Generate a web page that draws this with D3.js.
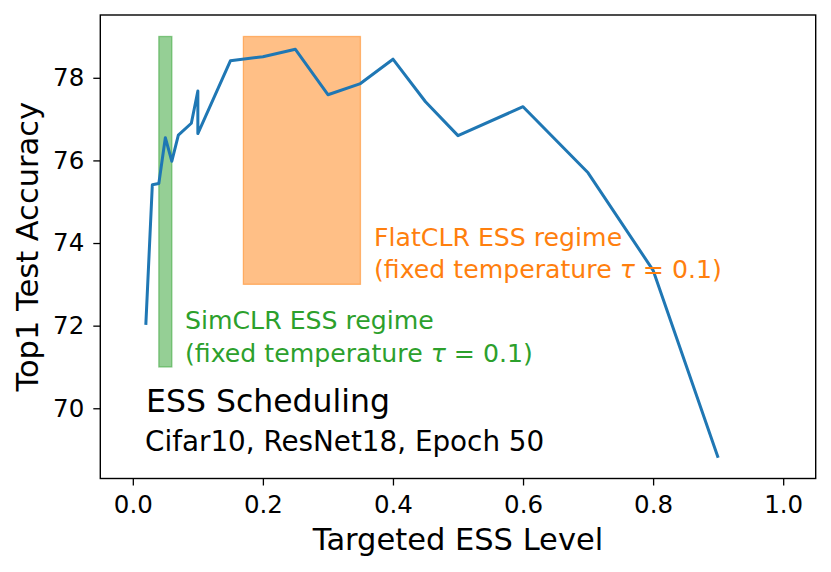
<!DOCTYPE html>
<meta charset="utf-8">
<script src="https://d3js.org/d3.v7.min.js"></script>
<style>
  body { margin: 0; background: white; }
  text { font-family: "DejaVu Sans", sans-serif; }
</style>
<div id="chart"></div>
<script>

// targeted ESS level vs top1 accuracy
var essLevel = [0.02, 0.03, 0.04, 0.05, 0.06, 0.07, 0.09, 0.1, 0.1, 0.15, 0.2, 0.25, 0.3, 0.35, 0.4, 0.45, 0.5, 0.6, 0.7, 0.8, 0.9];
var accuracy = [72.02, 75.41, 75.44, 76.55, 75.98, 76.61, 76.9, 77.68, 76.65, 78.41, 78.51, 78.69, 77.59, 77.86, 78.45, 77.42, 76.6, 77.3, 75.7, 73.34, 68.8];

// shaded regimes: [x0, x1], [y0, y1]
var simclrX = [0.04, 0.06], simclrY = [71, 79];
var flatclrX = [0.17, 0.35], flatclrY = [73, 79];

var xTicks = [0, 0.2, 0.4, 0.6, 0.8, 1.0];
var xTickLabels = ["0.0", "0.2", "0.4", "0.6", "0.8", "1.0"];
var yTicks = [70, 72, 74, 76, 78];

var W = 831, H = 572;
var plotL = 100.3, plotR = 815.7, plotT = 15, plotB = 478.5;

var svg = d3.select("#chart").append("svg")
  .attr("width", W)
  .attr("height", H);

var x = d3.scaleLinear().domain([-0.05, 1.05]).range([plotL, plotR]);
var y = d3.scaleLinear().domain([68.3, 79.52]).range([plotB, plotT]);

// regimes
function regime(xs, ys, color) {
  svg.append("rect")
    .attr("x", x(xs[0]))
    .attr("y", y(ys[1]))
    .attr("width", x(xs[1]) - x(xs[0]))
    .attr("height", y(ys[0]) - y(ys[1]))
    .attr("fill", color)
    .attr("fill-opacity", 0.5)
    .attr("stroke", color)
    .attr("stroke-opacity", 0.5)
    .attr("stroke-width", 1.3);
}
regime(simclrX, simclrY, "#2ca02c");
regime(flatclrX, flatclrY, "#ff7f0e");

// line
var pts = essLevel.map(function(d, i) { return [d, accuracy[i]]; });
svg.append("path")
  .datum(pts)
  .attr("fill", "none")
  .attr("stroke", "#1f77b4")
  .attr("stroke-width", 3)
  .attr("stroke-linejoin", "round")
  .attr("d", d3.line()
    .x(function(d) { return x(d[0]); })
    .y(function(d) { return y(d[1]); }));

// axes
var xAxis = svg.append("g")
  .attr("transform", "translate(0," + plotB + ")")
  .call(d3.axisBottom(x).tickValues(xTicks)
    .tickFormat(function(d, i) { return xTickLabels[i]; })
    .tickSize(7).tickPadding(10).tickSizeOuter(0));
var yAxis = svg.append("g")
  .attr("transform", "translate(" + plotL + ",0)")
  .call(d3.axisLeft(y).tickValues(yTicks).tickSize(7).tickPadding(9).tickSizeOuter(0));

[xAxis, yAxis].forEach(function(g) {
  g.select(".domain").remove();
  g.selectAll(".tick line").attr("stroke", "black").attr("stroke-width", 1.3);
  g.selectAll(".tick text")
    .attr("fill", "black")
    .style("font-family", "DejaVu Sans")
    .style("font-size", "24.5px");
});

// frame
svg.append("rect")
  .attr("x", plotL).attr("y", plotT)
  .attr("width", plotR - plotL).attr("height", plotB - plotT)
  .attr("fill", "none")
  .attr("stroke", "black")
  .attr("stroke-width", 1.4);

// axis labels
svg.append("text")
  .attr("x", (plotL + plotR) / 2)
  .attr("y", 550)
  .attr("text-anchor", "middle")
  .style("font-size", "30.5px")
  .text("Targeted ESS Level");

svg.append("text")
  .attr("transform", "translate(38.4," + (plotT + plotB) / 2 + ") rotate(-90)")
  .attr("text-anchor", "middle")
  .style("font-size", "30.5px")
  .text("Top1 Test Accuracy");

// annotations
function tauLabel(x0, y0, first, color) {
  var t = svg.append("text")
    .attr("x", x0).attr("y", y0)
    .attr("fill", color)
    .style("font-size", "25.2px");
  t.append("tspan").text(first);
  var t2 = svg.append("text")
    .attr("x", x0).attr("y", y0 + 32.4)
    .attr("fill", color)
    .style("font-size", "25.2px");
  t2.append("tspan").text("(fixed temperature ");
  t2.append("tspan").style("font-style", "italic").text("\u03c4");
  t2.append("tspan").text(" = 0.1)");
}
tauLabel(185, 329.3, "SimCLR ESS regime", "#2ca02c");
tauLabel(374, 246, "FlatCLR ESS regime", "#ff7f0e");

svg.append("text")
  .attr("x", 146).attr("y", 411.7)
  .style("font-size", "31.5px")
  .text("ESS Scheduling");
svg.append("text")
  .attr("x", 145).attr("y", 450.7)
  .style("font-size", "27.8px")
  .text("Cifar10, ResNet18, Epoch 50");

</script>
